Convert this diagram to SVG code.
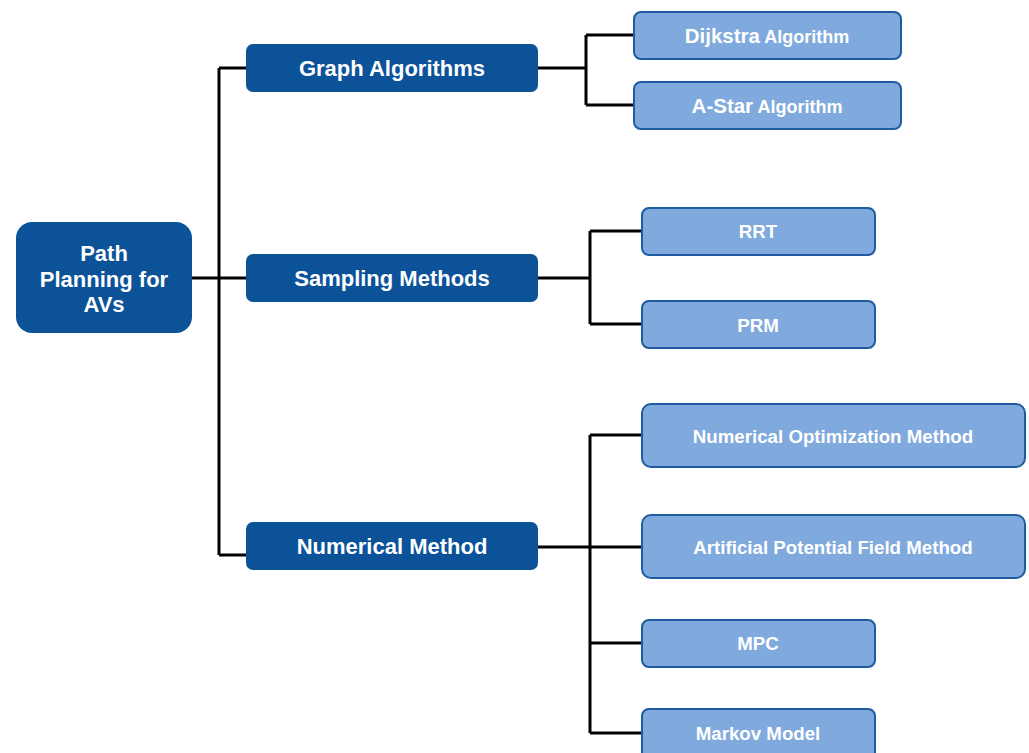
<svg xmlns="http://www.w3.org/2000/svg" width="1029" height="753" viewBox="0 0 1029 753">
<style>
.dark{fill:#0b5299;}
.light{fill:#80aadd;stroke:#1f5ba0;stroke-width:2;}
.t{font-family:"Liberation Sans",Arial,sans-serif;font-weight:bold;fill:#fff;text-anchor:middle;}
.td{font-size:22px;}
.tl{font-size:18.7px;}
.conn{fill:none;stroke:#000;stroke-width:3;}
</style>
<rect width="1029" height="753" fill="#fff"/>
<g id="connectors" class="conn">
<path d="M192 278H219M219 68V555M219 68H246M219 278H246M219 555H246"/>
<path d="M538 68H586M586 35V105M586 35H634M586 105H634"/>
<path d="M538 278H590M590 231V324M590 231H642M590 324H642"/>
<path d="M538 547H642M590 435V733M590 435H642M590 643H642M590 733H642"/>
</g>
<g id="root"><rect class="dark" x="16" y="222" width="176" height="111" rx="16"/>
<text class="t td"><tspan x="104" y="261">Path</tspan><tspan x="104" y="287">Planning for</tspan><tspan x="104" y="312">AVs</tspan></text></g>
<g id="graph"><rect class="dark" x="246" y="44" width="292" height="48" rx="7"/><text class="t td" x="392" y="76">Graph Algorithms</text></g>
<g id="sampling"><rect class="dark" x="246" y="254" width="292" height="48" rx="7"/><text class="t td" x="392" y="286">Sampling Methods</text></g>
<g id="numerical"><rect class="dark" x="246" y="522" width="292" height="48" rx="7"/><text class="t td" x="392" y="554">Numerical Method</text></g>
<g id="dijkstra"><rect class="light" x="634" y="12" width="267" height="47" rx="7"/><text class="t" x="767" y="43"><tspan font-size="20.5">Dijkstra</tspan><tspan font-size="18"> Algorithm</tspan></text></g>
<g id="astar"><rect class="light" x="634" y="82" width="267" height="47" rx="7"/><text class="t" x="767" y="113"><tspan font-size="20.5">A-Star</tspan><tspan font-size="18"> Algorithm</tspan></text></g>
<g id="rrt"><rect class="light" x="642" y="208" width="233" height="47" rx="7"/><text class="t tl" x="758" y="238">RRT</text></g>
<g id="prm"><rect class="light" x="642" y="301" width="233" height="47" rx="7"/><text class="t tl" x="758" y="332">PRM</text></g>
<g id="numopt"><rect class="light" x="642" y="404" width="383" height="63" rx="9"/><text class="t tl" x="833" y="443">Numerical Optimization Method</text></g>
<g id="apf"><rect class="light" x="642" y="515" width="383" height="63" rx="9"/><text class="t tl" x="833" y="554">Artificial Potential Field Method</text></g>
<g id="mpc"><rect class="light" x="642" y="620" width="233" height="47" rx="7"/><text class="t tl" x="758" y="650">MPC</text></g>
<g id="markov"><rect class="light" x="642" y="709" width="233" height="50" rx="7"/><text class="t tl" x="758" y="740">Markov Model</text></g>
</svg>
